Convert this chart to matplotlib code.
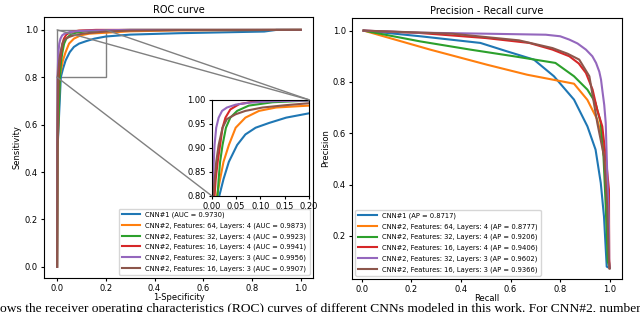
import numpy as np
import matplotlib
matplotlib.use("Agg")
import matplotlib.pyplot as plt
from matplotlib.patches import Rectangle, ConnectionPatch

# ---- ROC data (1-specificity, sensitivity) ----
roc_fpr = {
    "cnn1":   [0, 0.002, 0.0153, 0.024, 0.035, 0.052, 0.069, 0.090, 0.118, 0.153, 0.2, 0.3, 0.5, 0.7, 0.85, 0.9, 1.0],
    "f64l4":  [0, 0.002, 0.0104, 0.017, 0.024, 0.035, 0.049, 0.069, 0.097, 0.132, 0.2, 0.3, 0.5, 1.0],
    "f32l4":  [0, 0.002, 0.0118, 0.014, 0.017, 0.022, 0.029, 0.038, 0.052, 0.076, 0.125, 0.2, 0.3, 1.0],
    "f16l4":  [0, 0.001, 0.0056, 0.008, 0.012, 0.017, 0.022, 0.028, 0.038, 0.056, 0.09, 0.16, 0.3, 1.0],
    "f32l3":  [0, 0.0005, 0.0014, 0.003, 0.004, 0.0056, 0.009, 0.014, 0.021, 0.031, 0.049, 0.076, 0.125, 0.2, 0.3, 1.0],
    "f16l3":  [0, 0.001, 0.003, 0.006, 0.009, 0.014, 0.022, 0.031, 0.049, 0.069, 0.104, 0.153, 0.2, 0.3, 0.5, 1.0],
}
roc_tpr = {
    "cnn1":   [0, 0.5, 0.80, 0.835, 0.871, 0.906, 0.928, 0.942, 0.952, 0.963, 0.972, 0.980, 0.986, 0.990, 0.993, 1.0, 1.0],
    "f64l4":  [0, 0.5, 0.80, 0.835, 0.871, 0.906, 0.942, 0.963, 0.977, 0.984, 0.988, 0.994, 0.998, 1.0],
    "f32l4":  [0, 0.5, 0.80, 0.835, 0.871, 0.906, 0.942, 0.963, 0.977, 0.988, 0.995, 0.9985, 1.0, 1.0],
    "f16l4":  [0, 0.5, 0.80, 0.835, 0.871, 0.906, 0.942, 0.963, 0.980, 0.991, 0.997, 1.0, 1.0, 1.0],
    "f32l3":  [0, 0.5, 0.80, 0.835, 0.871, 0.906, 0.942, 0.963, 0.977, 0.984, 0.990, 0.994, 0.997, 0.9985, 1.0, 1.0],
    "f16l3":  [0, 0.5, 0.80, 0.835, 0.871, 0.906, 0.942, 0.960, 0.970, 0.977, 0.984, 0.989, 0.993, 0.997, 0.999, 1.0],
}
roc_labels = [
    "CNN#1 (AUC = 0.9730)",
    "CNN#2, Features: 64, Layers: 4 (AUC = 0.9873)",
    "CNN#2, Features: 32, Layers: 4 (AUC = 0.9923)",
    "CNN#2, Features: 16, Layers: 4 (AUC = 0.9941)",
    "CNN#2, Features: 32, Layers: 3 (AUC = 0.9956)",
    "CNN#2, Features: 16, Layers: 3 (AUC = 0.9907)",
]

# ---- Precision-recall data ----
pr_recall = {
    "cnn1":  [0.007, 0.235, 0.478, 0.586, 0.694, 0.775, 0.856, 0.91, 0.943, 0.964, 0.977, 0.984, 0.988, 1.0],
    "f64l4": [0.007, 0.275, 0.505, 0.667, 0.856, 0.91, 0.95, 0.97, 0.984, 0.99, 1.0],
    "f32l4": [0.007, 0.235, 0.437, 0.613, 0.781, 0.856, 0.91, 0.942, 0.964, 0.975, 0.984, 0.992, 1.0],
    "f16l4": [0.007, 0.23, 0.5, 0.675, 0.769, 0.837, 0.875, 0.904, 0.931, 0.95, 0.97, 0.984, 0.997, 0.998, 1.0],
    "f32l3": [0.007, 0.23, 0.5, 0.742, 0.80, 0.837, 0.87, 0.904, 0.93, 0.945, 0.958, 0.965, 0.97,
              0.978, 0.984, 0.99, 0.997, 0.998, 1.0],
    "f16l3": [0.007, 0.364, 0.634, 0.769, 0.83, 0.877, 0.918, 0.95, 0.977, 0.99, 0.997, 1.0],
}
pr_precision = {
    "cnn1":  [1.0, 0.978, 0.952, 0.919, 0.887, 0.822, 0.731, 0.627, 0.536, 0.406, 0.275, 0.15, 0.08, 0.074],
    "f64l4": [1.0, 0.926, 0.867, 0.828, 0.793, 0.73, 0.653, 0.575, 0.445, 0.2, 0.074],
    "f32l4": [1.0, 0.958, 0.926, 0.900, 0.874, 0.822, 0.77, 0.72, 0.64, 0.51, 0.315, 0.1, 0.074],
    "f16l4": [1.0, 0.991, 0.971, 0.952, 0.926, 0.900, 0.872, 0.835, 0.77, 0.69, 0.627, 0.51, 0.38, 0.1, 0.074],
    "f32l3": [1.0, 0.992, 0.988, 0.984, 0.978, 0.965, 0.95, 0.926, 0.90, 0.874, 0.84, 0.809, 0.77,
              0.71, 0.64, 0.445, 0.25, 0.1, 0.074],
    "f16l3": [1.0, 0.988, 0.962, 0.932, 0.91, 0.887, 0.822, 0.64, 0.51, 0.315, 0.1, 0.074],
}
pr_labels = [
    "CNN#1 (AP = 0.8717)",
    "CNN#2, Features: 64, Layers: 4 (AP = 0.8777)",
    "CNN#2, Features: 32, Layers: 4 (AP = 0.9206)",
    "CNN#2, Features: 16, Layers: 4 (AP = 0.9406)",
    "CNN#2, Features: 32, Layers: 3 (AP = 0.9602)",
    "CNN#2, Features: 16, Layers: 3 (AP = 0.9366)",
]

KEYS = ["cnn1", "f64l4", "f32l4", "f16l4", "f32l3", "f16l3"]
COLORS = ["#1f77b4", "#ff7f0e", "#2ca02c", "#d62728", "#9467bd", "#8c564b"]
LW = 1.5
FS = 6
LEG_FS = 4.85

fig = plt.figure(figsize=(6.4, 3.12), dpi=100)

# ---- ROC ----
ax1 = fig.add_axes([0.069, 0.109, 0.420, 0.837])
for k, c, lab in zip(KEYS, COLORS, roc_labels):
    ax1.plot(roc_fpr[k], roc_tpr[k], color=c, lw=LW, label=lab)
ax1.set_title("ROC curve", fontsize=7, pad=3)
ax1.set_xlabel("1-Specificity", fontsize=6, labelpad=0)
ax1.set_ylabel("Sensitivity", fontsize=6, labelpad=2)
ax1.set_xlim(-0.053, 1.05)
ax1.set_ylim(-0.047, 1.055)
ax1.set_xticks([0, 0.2, 0.4, 0.6, 0.8, 1.0])
ax1.set_yticks([0, 0.2, 0.4, 0.6, 0.8, 1.0])
ax1.tick_params(labelsize=FS, length=2.5, pad=2)
ax1.legend(loc="lower right", fontsize=LEG_FS, handlelength=2.7, borderpad=0.45,
           labelspacing=0.62, framealpha=0.8)

# zoom rectangle and inset
ax1.add_patch(Rectangle((0, 0.8), 0.2, 0.2, fill=False, ec="0.5", lw=1))
axins = fig.add_axes([0.331, 0.372, 0.152, 0.308])
for k, c in zip(KEYS, COLORS):
    axins.plot(roc_fpr[k], roc_tpr[k], color=c, lw=LW)
axins.set_xlim(0, 0.2)
axins.set_ylim(0.8, 1.0)
axins.set_xticks([0, 0.05, 0.1, 0.15, 0.2])
axins.set_yticks([0.8, 0.85, 0.9, 0.95, 1.0])
axins.set_xticklabels(["0.00", "0.05", "0.10", "0.15", "0.20"])
axins.set_yticklabels(["0.80", "0.85", "0.90", "0.95", "1.00"])
axins.tick_params(labelsize=FS, length=2.5, pad=2)

for (xa, ya), (xb, yb) in [((0, 1.0), (1, 1)), ((0.2, 1.0), (1, 1)), ((0, 0.8), (0, 0))]:
    con = ConnectionPatch(xyA=(xa, ya), coordsA=ax1.transData,
                          xyB=(xb, yb), coordsB=axins.transAxes,
                          color="0.5", lw=1)
    fig.add_artist(con)

# ---- PR ----
ax2 = fig.add_axes([0.55, 0.106, 0.422, 0.837])
for k, c, lab in zip(KEYS, COLORS, pr_labels):
    ax2.plot(pr_recall[k], pr_precision[k], color=c, lw=LW, label=lab)
ax2.set_title("Precision - Recall curve", fontsize=7, pad=3)
ax2.set_xlabel("Recall", fontsize=6, labelpad=0)
ax2.set_ylabel("Precision", fontsize=6, labelpad=2)
ax2.set_xlim(-0.04, 1.05)
ax2.set_ylim(0.032, 1.05)
ax2.set_xticks([0, 0.2, 0.4, 0.6, 0.8, 1.0])
ax2.set_yticks([0.2, 0.4, 0.6, 0.8, 1.0])
ax2.tick_params(labelsize=FS, length=2.5, pad=2)
ax2.legend(loc="lower left", fontsize=LEG_FS, handlelength=2.7, borderpad=0.45,
           labelspacing=0.62, framealpha=0.8)

# caption fragment from the page (its lower edge is cut off, as on the page)
fig.text(0.0, 0.0, "ows the receiver operating characteristics (ROC) curves of different CNNs modeled in this work. For CNN#2, number",
         family="Liberation Serif", fontsize=9.7, va="baseline", ha="left")

fig.savefig("out.png", dpi=100)
